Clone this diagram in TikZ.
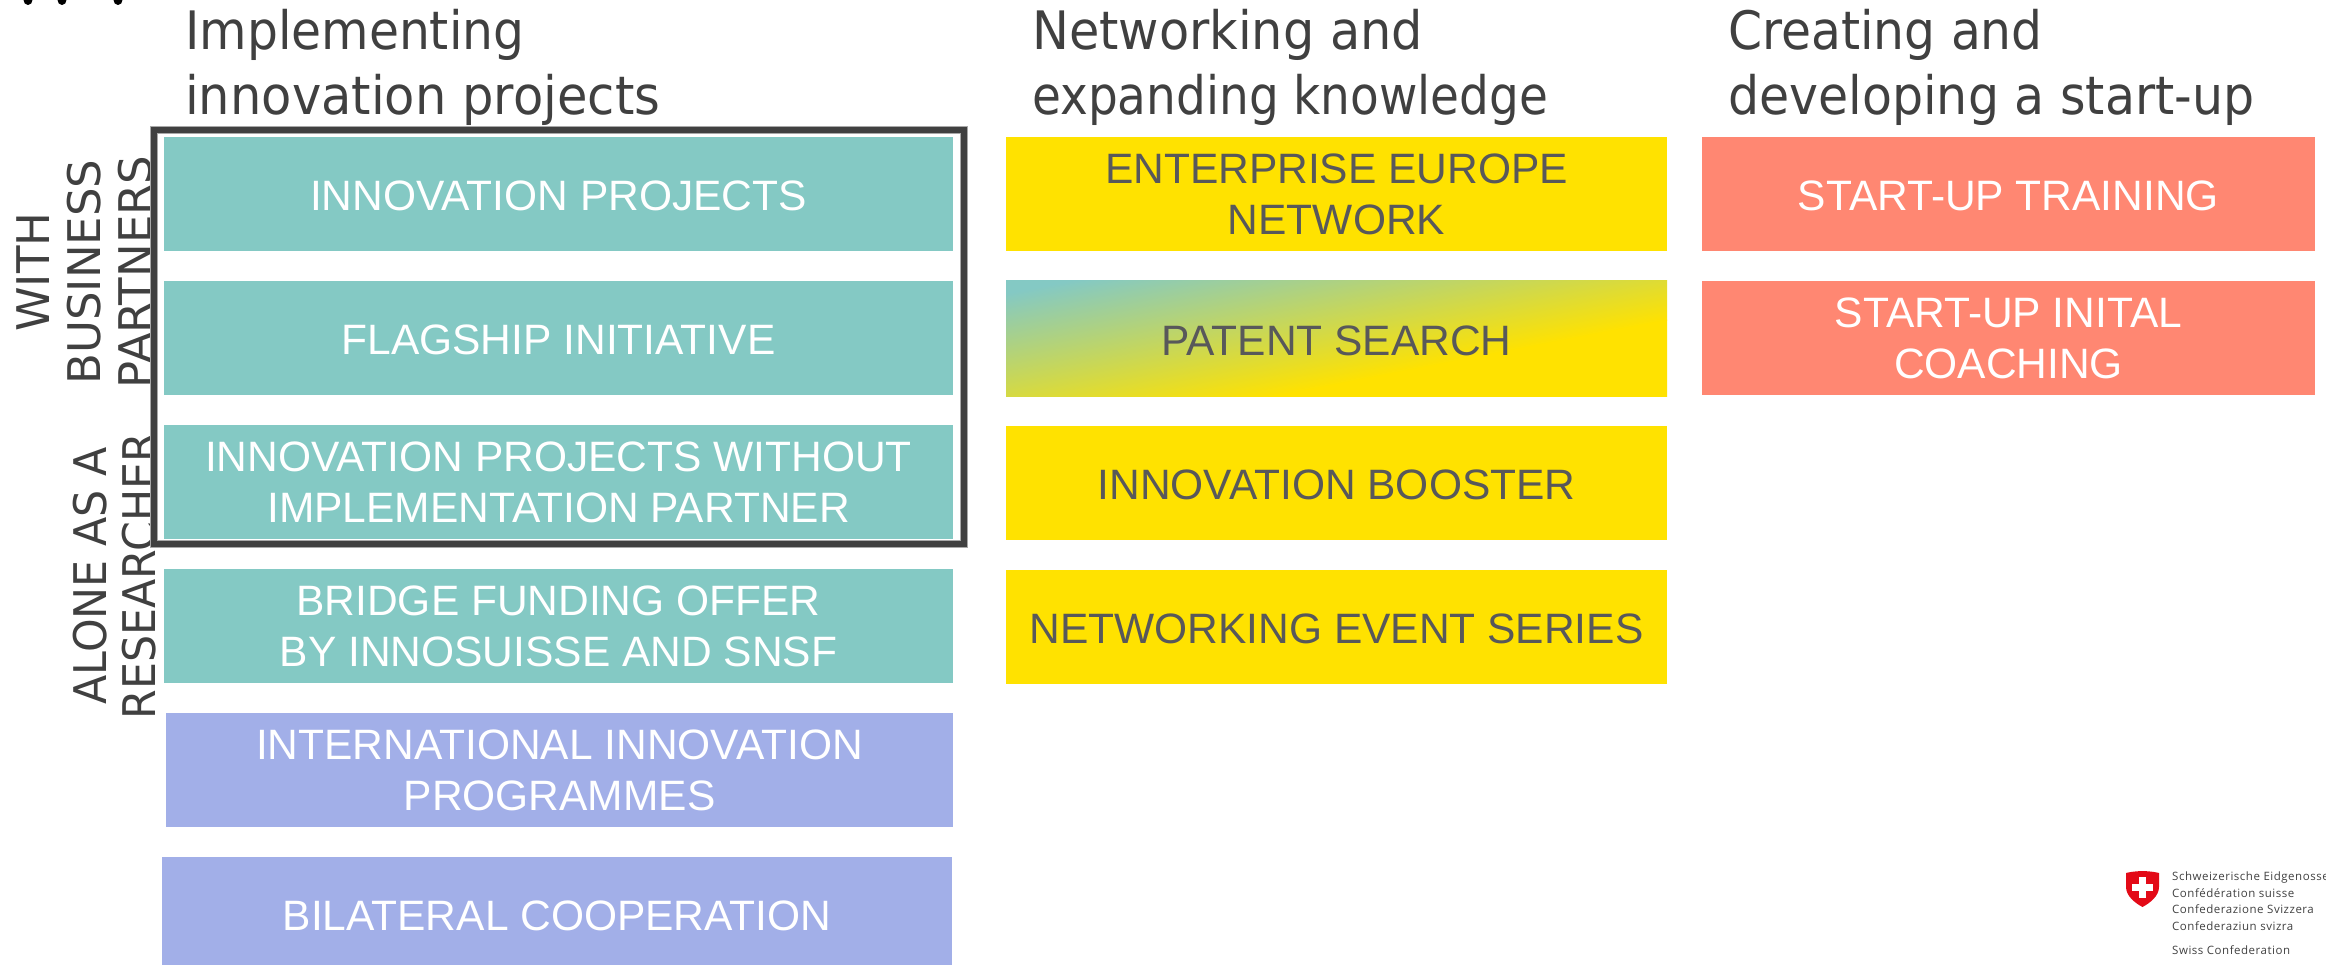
\documentclass[tikz,border=0pt]{standalone}
\usepackage{fontspec}
\setmainfont{Liberation Sans}
\newfontfamily\handfont[FakeStretch=0.92]{DejaVu Sans}
\newfontfamily\sidefonta[FakeStretch=1.0]{DejaVu Sans}
\newfontfamily\sidefontb[FakeStretch=0.95]{DejaVu Sans}
\newfontfamily\logofont[LetterSpace=4.5]{Open Sans}
\definecolor{tealbox}{HTML}{84C9C4}
\definecolor{purplebox}{HTML}{A2AFE8}
\definecolor{yellowbox}{HTML}{FFE200}
\definecolor{redbox}{HTML}{FF8772}
\definecolor{darkline}{HTML}{404040}
\definecolor{frameedge}{HTML}{A8A8A8}
\definecolor{yellowtext}{HTML}{58585A}
\definecolor{swissred}{HTML}{E30A17}
\tikzset{
  x=1pt,y=-1pt,
  box/.style={inner sep=0pt,outer sep=0pt,align=center,font=\fontsize{42.5}{51}\selectfont,execute at begin node={\rule{0pt}{34pt}}},
  tealb/.style={box,fill=tealbox,text=white,minimum width=789pt,minimum height=114pt},
  purpleb/.style={box,fill=purplebox,text=white,minimum height=114pt},
  yellowb/.style={box,fill=yellowbox,text=yellowtext,minimum width=661pt,minimum height=114pt},
  redb/.style={box,fill=redbox,text=white,minimum width=614pt,minimum height=114pt},
  title/.style={anchor=north west,inner sep=0pt,align=left,text=darkline,font=\handfont\fontsize{53}{65}\selectfont},
  sidelabel/.style={rotate=90,inner sep=0pt,align=center,text=darkline},
  logotext/.style={anchor=base west,inner sep=0pt,text=darkline,font=\logofont\fontsize{11.5}{12}\selectfont},
}
\begin{document}
\begin{tikzpicture}
\useasboundingbox (0,0) rectangle (2326,965);
\clip (0,0) rectangle (2326,965);
% clipped marks at the top edge
\fill[black] (28,0) ellipse (4.5 and 5);
\fill[black] (62,0) ellipse (4.5 and 5);
\fill[black] (118,0) ellipse (4.5 and 5);
% titles
\node[title] (t1) at (185,9) {Implementing\\\scalebox{1.016}[1]{innovation projects}};
\node[title] (t2) at (1032,9) {\scalebox{1.012}[1]{Networking and}\\\scalebox{0.963}[1]{expanding knowledge}};
\node[title] (t3) at (1728,9) {Creating and\\\scalebox{1.005}[1]{developing a start-up}};
% side labels
\node[sidelabel,font=\sidefonta\fontsize{45}{51}\selectfont] (l1) at (84,272) {WITH\\BUSINESS\\PARTNERS};
\node[sidelabel,font=\sidefontb\fontsize{45}{49}\selectfont] (l2) at (114.5,576) {ALONE AS A\\RESEARCHER};
% left column
\node[tealb] (a1) at (558.5,194) {INNOVATION PROJECTS};
\node[tealb] (a2) at (558.5,338) {FLAGSHIP INITIATIVE};
\node[tealb] (a3) at (558.5,482) {INNOVATION PROJECTS WITHOUT\\IMPLEMENTATION PARTNER};
\node[tealb] (a4) at (558.5,626) {BRIDGE FUNDING OFFER\\BY INNOSUISSE AND SNSF};
\node[purpleb,minimum width=787pt] (a5) at (559.5,770) {INTERNATIONAL INNOVATION\\PROGRAMMES};
\node[purpleb,minimum width=790pt] (a6) at (557,914) {BILATERAL COOPERATION};
% frame
\draw[frameedge,line width=7.5pt] (154,130) rectangle (964,544);
\draw[darkline,line width=5.5pt] (154,130) rectangle (964,544);
% middle column
\node[yellowb] (b1) at (1336.5,194) {ENTERPRISE EUROPE\\NETWORK};
\begin{scope}
  \clip (1006,281) rectangle (1667,396);
  \begin{scope}[transform canvas={rotate around={11:(1006,281)}}]
    \fill[tealbox] (706,0) rectangle (1906,294);
    \shade[top color=tealbox,bottom color=yellowbox] (706,293) rectangle (1906,446);
    \fill[yellowbox] (706,445) rectangle (1906,900);
  \end{scope}
\end{scope}
\node[box,text=yellowtext,minimum width=661pt,minimum height=115pt] (b2) at (1336.5,338.5) {PATENT SEARCH};
\node[yellowb] (b3) at (1336.5,483) {INNOVATION BOOSTER};
\node[yellowb] (b4) at (1336.5,627) {NETWORKING EVENT SERIES};
% right column
\node[redb,minimum width=613pt] (c1) at (2008.5,194) {START-UP TRAINING};
\node[redb,minimum width=613pt] (c2) at (2008.5,338) {START-UP INITAL\\COACHING};
% logo
\fill[swissred] (2126,873) .. controls (2136,870.5) and (2149,870.5) .. (2159,873)
  -- (2159,887) .. controls (2159,896) and (2150,903) .. (2142.5,907)
  .. controls (2135,903) and (2126,896) .. (2126,887) -- cycle;
\fill[white] (2139,877) rectangle (2146,898);
\fill[white] (2132,884) rectangle (2153,891);
\node[logotext] (s1) at (2172,880) {Schweizerische Eidgenossenschaft};
\node[logotext] (s2) at (2172,897) {Confédération suisse};
\node[logotext] (s3) at (2172,913) {Confederazione Svizzera};
\node[logotext] (s4) at (2172,930) {Confederaziun svizra};
\node[logotext] (s5) at (2172,954) {Swiss Confederation};
\end{tikzpicture}
\end{document}
